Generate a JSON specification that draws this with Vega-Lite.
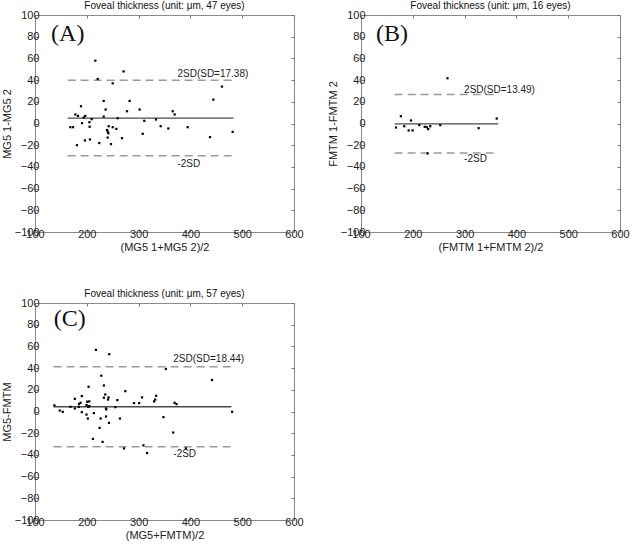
{
  "$schema": "https://vega.github.io/schema/vega-lite/v6.json",
  "padding": {"left": 0, "top": 0, "right": 0, "bottom": 0},
  "background": "white",
  "datasets": {
    "pts": [
      {"p":"A","x":168.2,"y":-3.4},{"p":"A","x":173.4,"y":-3.4},{"p":"A","x":177.9,"y":8.3},{"p":"A","x":183,"y":7},
      {"p":"A","x":188.8,"y":15.9},{"p":"A","x":190.7,"y":0.3},{"p":"A","x":194,"y":5.5},{"p":"A","x":197,"y":7},
      {"p":"A","x":181,"y":-20},{"p":"A","x":196.5,"y":-15.6},{"p":"A","x":205,"y":1.2},{"p":"A","x":205.5,"y":-3},
      {"p":"A","x":209.4,"y":4},{"p":"A","x":206,"y":-14.7},{"p":"A","x":216.5,"y":57.9},{"p":"A","x":221,"y":41},
      {"p":"A","x":224,"y":-18},{"p":"A","x":232.6,"y":20.8},{"p":"A","x":232.6,"y":6.4},{"p":"A","x":236.4,"y":12.9},
      {"p":"A","x":239,"y":-6},{"p":"A","x":240.3,"y":-13},{"p":"A","x":242.2,"y":-2.5},{"p":"A","x":241.6,"y":-9},
      {"p":"A","x":240.5,"y":-7.5},{"p":"A","x":246.7,"y":-19},{"p":"A","x":250,"y":37},{"p":"A","x":250,"y":-3.4},
      {"p":"A","x":257,"y":-5},{"p":"A","x":259.6,"y":4.9},{"p":"A","x":268,"y":-13.5},{"p":"A","x":271,"y":48},
      {"p":"A","x":277.6,"y":11.3},{"p":"A","x":282.7,"y":20.8},{"p":"A","x":302,"y":12.9},{"p":"A","x":307.9,"y":-9.5},
      {"p":"A","x":311,"y":2.5},{"p":"A","x":333.6,"y":3.7},{"p":"A","x":342.6,"y":-2.5},{"p":"A","x":357.4,"y":-4.6},
      {"p":"A","x":365.8,"y":11.3},{"p":"A","x":369.6,"y":8.3},{"p":"A","x":394.7,"y":-3.4},{"p":"A","x":437.8,"y":-12.6},
      {"p":"A","x":444.3,"y":22},{"p":"A","x":461,"y":34},{"p":"A","x":481.6,"y":-7.7},
      {"p":"B","x":167.5,"y":-3.7},{"p":"B","x":177,"y":6.7},{"p":"B","x":183.5,"y":-2.5},{"p":"B","x":192,"y":-6.4},
      {"p":"B","x":196.4,"y":2.8},{"p":"B","x":199.6,"y":-6.4},{"p":"B","x":212.5,"y":-1.5},{"p":"B","x":227,"y":-3.4},
      {"p":"B","x":229.8,"y":-5.2},{"p":"B","x":233.7,"y":-2.5},{"p":"B","x":228.5,"y":-27.6},{"p":"B","x":253,"y":-1.5},
      {"p":"B","x":267,"y":41.7},{"p":"B","x":327,"y":-4.3},{"p":"B","x":362,"y":4.6},{"p":"B","x":223,"y":-3},
      {"p":"C","x":137.5,"y":5.6},{"p":"C","x":147.8,"y":0.9},{"p":"C","x":153.6,"y":-0.3},{"p":"C","x":168.5,"y":4.3},
      {"p":"C","x":176.9,"y":11.7},{"p":"C","x":176.9,"y":2.8},{"p":"C","x":184.6,"y":4.3},{"p":"C","x":187.9,"y":8},
      {"p":"C","x":190.4,"y":14.2},{"p":"C","x":190.4,"y":-0.6},{"p":"C","x":199.5,"y":-2.8},{"p":"C","x":199.5,"y":5.9},
      {"p":"C","x":200.8,"y":9},{"p":"C","x":202,"y":-6.5},{"p":"C","x":203.4,"y":22.8},{"p":"C","x":204.7,"y":9.3},
      {"p":"C","x":202.7,"y":4.3},{"p":"C","x":213.7,"y":-1.5},{"p":"C","x":211.8,"y":-25.3},{"p":"C","x":217.6,"y":56.8},
      {"p":"C","x":224.7,"y":-15.1},{"p":"C","x":226.6,"y":-6.5},{"p":"C","x":228,"y":33},{"p":"C","x":230.5,"y":-28},
      {"p":"C","x":233,"y":24},{"p":"C","x":233,"y":12.7},{"p":"C","x":235.7,"y":15.7},{"p":"C","x":237,"y":2.8},
      {"p":"C","x":237,"y":-4.6},{"p":"C","x":237.6,"y":1.9},{"p":"C","x":241,"y":11},{"p":"C","x":242,"y":13},
      {"p":"C","x":242.8,"y":-10.5},{"p":"C","x":243.4,"y":52.8},{"p":"C","x":255,"y":4},{"p":"C","x":259,"y":10.5},
      {"p":"C","x":264,"y":-6.5},{"p":"C","x":271.8,"y":-34},{"p":"C","x":274.4,"y":18.8},{"p":"C","x":291.2,"y":7.7},
      {"p":"C","x":301,"y":7.7},{"p":"C","x":306.7,"y":13},{"p":"C","x":309.3,"y":-31.2},{"p":"C","x":316.4,"y":-38.3},
      {"p":"C","x":330,"y":9.3},{"p":"C","x":332,"y":11},{"p":"C","x":333.9,"y":14.5},{"p":"C","x":348,"y":-5.2},
      {"p":"C","x":352.6,"y":39.2},{"p":"C","x":366.8,"y":-19.4},{"p":"C","x":369.4,"y":8},{"p":"C","x":373.3,"y":6.8},
      {"p":"C","x":391.3,"y":-34},{"p":"C","x":441.7,"y":29},{"p":"C","x":480.5,"y":-0.3},{"p":"C","x":205,"y":5},
      {"p":"C","x":185,"y":7}
    ],
    "lines": [
      {"p":"A","k":"mean","x":163,"x2":483,"y":5.0},
      {"p":"A","k":"sd","x":163,"x2":483,"y":39.76},
      {"p":"A","k":"sd","x":163,"x2":483,"y":-29.76},
      {"p":"B","k":"mean","x":165,"x2":365,"y":-0.3},
      {"p":"B","k":"sd","x":165,"x2":365,"y":26.7},
      {"p":"B","k":"sd","x":165,"x2":365,"y":-27.3},
      {"p":"C","k":"mean","x":136,"x2":479,"y":4.4},
      {"p":"C","k":"sd","x":136,"x2":479,"y":41.3},
      {"p":"C","k":"sd","x":136,"x2":479,"y":-32.5}
    ],
    "labs": [
      {"p":"A","x":375,"y":45.5,"t":"2SD(SD=17.38)"},
      {"p":"A","x":375,"y":-37.5,"t":"-2SD"},
      {"p":"B","x":299,"y":30.6,"t":"2SD(SD=13.49)"},
      {"p":"B","x":299,"y":-33,"t":"-2SD"},
      {"p":"C","x":367,"y":48,"t":"2SD(SD=18.44)"},
      {"p":"C","x":367,"y":-39,"t":"-2SD"}
    ],
    "lets": [
      {"p":"A","x":131,"y":76,"t":"(A)"},
      {"p":"B","x":129,"y":76,"t":"(B)"},
      {"p":"C","x":136,"y":79,"t":"(C)"}
    ]
  },
  "columns": 2,
  "spacing": {"row": 71, "column": 67},
  "bounds": "flush",
  "concat": [
    {
      "title": "Foveal thickness (unit: μm, 47 eyes)",
      "width": 259, "height": 217,
      "layer": [
        {"data": {"name": "lines"}, "transform": [{"filter": "datum.p==='A' && datum.k==='sd'"}],
         "mark": {"type": "rule", "color": "#9a9a9a", "strokeWidth": 1.5, "strokeDash": [8, 5]},
         "encoding": {
           "x": {"field": "x", "type": "quantitative", "scale": {"domain": [100, 600], "nice": false, "zero": false}, "axis": {"values": [100,200,300,400,500,600], "title": "(MG5 1+MG5 2)/2"}},
           "x2": {"field": "x2"},
           "y": {"field": "y", "type": "quantitative", "scale": {"domain": [-100, 100], "nice": false}, "axis": {"values": [-100,-80,-60,-40,-20,0,20,40,60,80,100], "title": "MG5 1-MG5 2"}}}},
        {"data": {"name": "lines"}, "transform": [{"filter": "datum.p==='A' && datum.k==='mean'"}],
         "mark": {"type": "rule", "color": "#4a4a4a", "strokeWidth": 1.3},
         "encoding": {"x": {"field": "x", "type": "quantitative", "axis": null}, "x2": {"field": "x2"}, "y": {"field": "y", "type": "quantitative", "axis": null}}},
        {"data": {"name": "pts"}, "transform": [{"filter": "datum.p==='A'"}],
         "mark": {"type": "square", "filled": true, "color": "#000", "size": 5, "opacity": 1},
         "encoding": {"x": {"field": "x", "type": "quantitative", "axis": null}, "y": {"field": "y", "type": "quantitative", "axis": null}}},
        {"data": {"name": "labs"}, "transform": [{"filter": "datum.p==='A'"}],
         "mark": {"type": "text", "align": "left", "baseline": "middle", "fontSize": 10, "font": "Liberation Sans", "color": "#222"},
         "encoding": {"x": {"field": "x", "type": "quantitative", "axis": null}, "y": {"field": "y", "type": "quantitative", "axis": null}, "text": {"field": "t"}}},
        {"data": {"name": "lets"}, "transform": [{"filter": "datum.p==='A'"}],
         "mark": {"type": "text", "align": "left", "baseline": "alphabetic", "fontSize": 24, "font": "Liberation Serif", "color": "#111"},
         "encoding": {
           "x": {"field": "x", "type": "quantitative", "axis": {"orient": "top", "values": [100,200,300,400,500,600], "labels": false, "title": null}},
           "y": {"field": "y", "type": "quantitative", "axis": {"orient": "right", "values": [-100,-80,-60,-40,-20,0,20,40,60,80,100], "labels": false, "title": null}},
           "text": {"field": "t"}}}
      ],
      "resolve": {"axis": {"x": "independent", "y": "independent"}}
    },
    {
      "title": "Foveal thickness (unit: μm, 16 eyes)",
      "width": 259, "height": 217,
      "layer": [
        {"data": {"name": "lines"}, "transform": [{"filter": "datum.p==='B' && datum.k==='sd'"}],
         "mark": {"type": "rule", "color": "#9a9a9a", "strokeWidth": 1.5, "strokeDash": [8, 5]},
         "encoding": {
           "x": {"field": "x", "type": "quantitative", "scale": {"domain": [100, 600], "nice": false, "zero": false}, "axis": {"values": [100,200,300,400,500,600], "title": "(FMTM 1+FMTM 2)/2"}},
           "x2": {"field": "x2"},
           "y": {"field": "y", "type": "quantitative", "scale": {"domain": [-100, 100], "nice": false}, "axis": {"values": [-100,-80,-60,-40,-20,0,20,40,60,80,100], "title": "FMTM 1-FMTM 2"}}}},
        {"data": {"name": "lines"}, "transform": [{"filter": "datum.p==='B' && datum.k==='mean'"}],
         "mark": {"type": "rule", "color": "#4a4a4a", "strokeWidth": 1.3},
         "encoding": {"x": {"field": "x", "type": "quantitative", "axis": null}, "x2": {"field": "x2"}, "y": {"field": "y", "type": "quantitative", "axis": null}}},
        {"data": {"name": "pts"}, "transform": [{"filter": "datum.p==='B'"}],
         "mark": {"type": "square", "filled": true, "color": "#000", "size": 5, "opacity": 1},
         "encoding": {"x": {"field": "x", "type": "quantitative", "axis": null}, "y": {"field": "y", "type": "quantitative", "axis": null}}},
        {"data": {"name": "labs"}, "transform": [{"filter": "datum.p==='B'"}],
         "mark": {"type": "text", "align": "left", "baseline": "middle", "fontSize": 10, "font": "Liberation Sans", "color": "#222"},
         "encoding": {"x": {"field": "x", "type": "quantitative", "axis": null}, "y": {"field": "y", "type": "quantitative", "axis": null}, "text": {"field": "t"}}},
        {"data": {"name": "lets"}, "transform": [{"filter": "datum.p==='B'"}],
         "mark": {"type": "text", "align": "left", "baseline": "alphabetic", "fontSize": 24, "font": "Liberation Serif", "color": "#111"},
         "encoding": {
           "x": {"field": "x", "type": "quantitative", "axis": {"orient": "top", "values": [100,200,300,400,500,600], "labels": false, "title": null}},
           "y": {"field": "y", "type": "quantitative", "axis": {"orient": "right", "values": [-100,-80,-60,-40,-20,0,20,40,60,80,100], "labels": false, "title": null}},
           "text": {"field": "t"}}}
      ],
      "resolve": {"axis": {"x": "independent", "y": "independent"}}
    },
    {
      "title": "Foveal thickness (unit: μm, 57 eyes)",
      "width": 259, "height": 217,
      "layer": [
        {"data": {"name": "lines"}, "transform": [{"filter": "datum.p==='C' && datum.k==='sd'"}],
         "mark": {"type": "rule", "color": "#9a9a9a", "strokeWidth": 1.5, "strokeDash": [8, 5]},
         "encoding": {
           "x": {"field": "x", "type": "quantitative", "scale": {"domain": [100, 600], "nice": false, "zero": false}, "axis": {"values": [100,200,300,400,500,600], "title": "(MG5+FMTM)/2"}},
           "x2": {"field": "x2"},
           "y": {"field": "y", "type": "quantitative", "scale": {"domain": [-100, 100], "nice": false}, "axis": {"values": [-100,-80,-60,-40,-20,0,20,40,60,80,100], "title": "MG5-FMTM"}}}},
        {"data": {"name": "lines"}, "transform": [{"filter": "datum.p==='C' && datum.k==='mean'"}],
         "mark": {"type": "rule", "color": "#4a4a4a", "strokeWidth": 1.3},
         "encoding": {"x": {"field": "x", "type": "quantitative", "axis": null}, "x2": {"field": "x2"}, "y": {"field": "y", "type": "quantitative", "axis": null}}},
        {"data": {"name": "pts"}, "transform": [{"filter": "datum.p==='C'"}],
         "mark": {"type": "square", "filled": true, "color": "#000", "size": 5, "opacity": 1},
         "encoding": {"x": {"field": "x", "type": "quantitative", "axis": null}, "y": {"field": "y", "type": "quantitative", "axis": null}}},
        {"data": {"name": "labs"}, "transform": [{"filter": "datum.p==='C'"}],
         "mark": {"type": "text", "align": "left", "baseline": "middle", "fontSize": 10, "font": "Liberation Sans", "color": "#222"},
         "encoding": {"x": {"field": "x", "type": "quantitative", "axis": null}, "y": {"field": "y", "type": "quantitative", "axis": null}, "text": {"field": "t"}}},
        {"data": {"name": "lets"}, "transform": [{"filter": "datum.p==='C'"}],
         "mark": {"type": "text", "align": "left", "baseline": "alphabetic", "fontSize": 24, "font": "Liberation Serif", "color": "#111"},
         "encoding": {
           "x": {"field": "x", "type": "quantitative", "axis": {"orient": "top", "values": [100,200,300,400,500,600], "labels": false, "title": null}},
           "y": {"field": "y", "type": "quantitative", "axis": {"orient": "right", "values": [-100,-80,-60,-40,-20,0,20,40,60,80,100], "labels": false, "title": null}},
           "text": {"field": "t"}}}
      ],
      "resolve": {"axis": {"x": "independent", "y": "independent"}}
    }
  ],
  "config": {
    "view": {"stroke": "#8a8a8a", "strokeWidth": 1},
    "axis": {
      "domain": false, "grid": false, "ticks": true, "tickSize": -3, "tickColor": "#777",
      "labelFont": "Liberation Sans", "labelFontSize": 11, "labelColor": "#222", "labelPadding": -1,
      "labelFlush": false, "labelOverlap": false,
      "titleFont": "Liberation Sans", "titleFontSize": 11, "titleFontWeight": "normal", "titleColor": "#222", "titlePadding": 2
    },
    "title": {"font": "Liberation Sans", "fontSize": 10, "fontWeight": "normal", "color": "#111", "offset": -2, "anchor": "middle"}
  }
}
